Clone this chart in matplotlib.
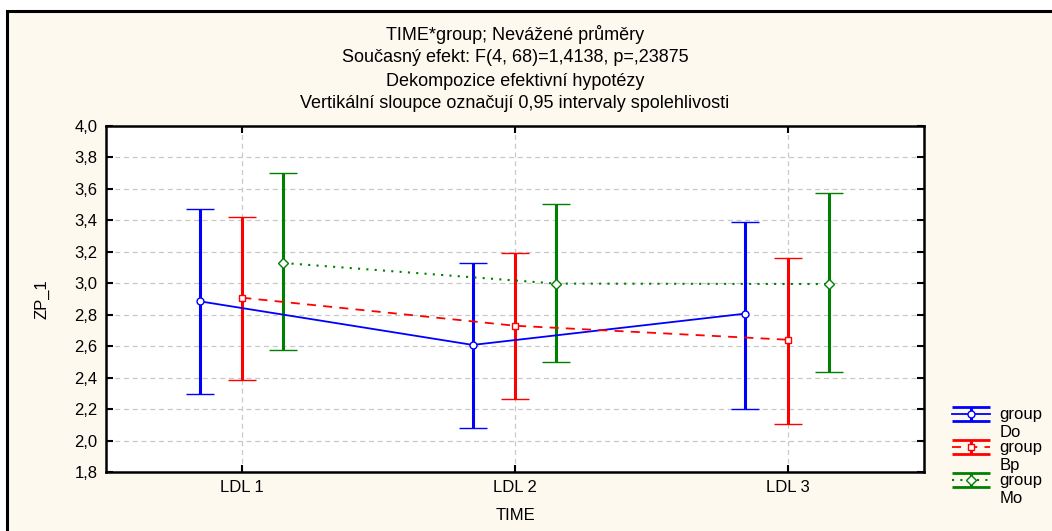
import matplotlib
matplotlib.use("Agg")
import matplotlib.pyplot as plt
from matplotlib.patches import Rectangle
from matplotlib.lines import Line2D
from matplotlib.legend_handler import HandlerErrorbar

plt.rcParams['font.family'] = ['Liberation Sans', 'DejaVu Sans']

# data
times = ["LDL 1", "LDL 2", "LDL 3"]
groups = ["group\nDo", "group\nBp", "group\nMo"]

do_mean = [2.885, 2.608, 2.807]
do_lo = [2.294, 2.078, 2.201]
do_hi = [3.470, 3.129, 3.390]

bp_mean = [2.908, 2.730, 2.641]
bp_lo = [2.383, 2.262, 2.107]
bp_hi = [3.421, 3.195, 3.161]

mo_mean = [3.129, 2.998, 2.995]
mo_lo = [2.576, 2.502, 2.434]
mo_hi = [3.701, 3.506, 3.574]

title_lines = [
    "TIME*group; Nevážené průměry",
    "Současný efekt: F(4, 68)=1,4138, p=,23875",
    "Dekompozice efektivní hypotézy",
    "Vertikální sloupce označují 0,95 intervaly spolehlivosti",
]

series = [
    (do_mean, do_lo, do_hi, "#0000ff", "-", "o", -0.155),
    (bp_mean, bp_lo, bp_hi, "#ff0000", (0, (5, 4)), "s", 0.0),
    (mo_mean, mo_lo, mo_hi, "#008000", (0, (1, 3)), "D", 0.15),
]


class WideCapHandler(HandlerErrorbar):
    # legend symbol like the original: caps as long as the handle, raised to the first text line
    def create_artists(self, legend, orig_handle, xdescent, ydescent,
                       width, height, fontsize, trans):
        arts = super().create_artists(legend, orig_handle, xdescent,
                                      ydescent - 14, width, height,
                                      fontsize, trans)
        for a in arts:
            if isinstance(a, Line2D) and a.get_marker() == "_":
                a.set_markersize(width)
                a.set_markeredgewidth(2.0)
            elif isinstance(a, Line2D) and a.get_marker() in ("o", "s", "D"):
                a.set_markersize(5)
        return arts


fig = plt.figure(figsize=(10.52, 5.31), dpi=100, facecolor="white")
fig.patches.append(Rectangle((7 / 1052, -0.1), 1.2, (531 - 11) / 531 + 0.1,
                             transform=fig.transFigure, facecolor="#fef9ee",
                             edgecolor="black", linewidth=2.2, zorder=-10))
ax = fig.add_axes([106 / 1052, 59 / 531, 818 / 1052, 346 / 531])

handles = []
for i, (m, lo, hi, col, ls, mk, off) in enumerate(series):
    x = [k + off for k in range(len(times))]
    yerr = [[a - b for a, b in zip(m, lo)], [b - a for a, b in zip(m, hi)]]
    lw = 1.5 if mk == "D" else 1.3
    h = ax.errorbar(x, m, yerr=yerr, color=col, linestyle=ls, linewidth=lw,
                    elinewidth=2.2, capsize=10, capthick=2.2,
                    marker=mk, markersize=5 if mk != "D" else 5.5,
                    markerfacecolor="white", markeredgecolor=col,
                    markeredgewidth=1.0, zorder=3, label=groups[i])
    handles.append(h)

ax.set_xlim(-0.5, 2.5)
ax.set_ylim(1.8, 4.0)
ax.set_xticks(range(len(times)))
ax.set_xticklabels(times)
yt = [1.8 + 0.2 * k for k in range(12)]
ax.set_yticks(yt)
ax.set_yticklabels([f"{v:.1f}".replace(".", ",") for v in yt])
ax.grid(True, color="#c8c8c8", linestyle=(0, (4, 3)), linewidth=0.9)
ax.set_axisbelow(True)
ax.tick_params(direction="in", top=True, right=True, length=5, width=1.5,
               labelsize=12, pad=6)
for s in ax.spines.values():
    s.set_linewidth(1.8)
ax.set_facecolor("white")

ax.set_xlabel("TIME", fontsize=12, labelpad=9)
ax.set_ylabel("ZP_1", fontsize=12, labelpad=18)

for k, line in enumerate(title_lines):
    fig.text(515 / 1052, 1 - (35 + 23 * k) / 531, line, ha="center",
             va="center", fontsize=13)

leg = fig.legend(handles=handles, loc="upper left",
                 bbox_to_anchor=(945 / 1052, 1 - 400 / 531), frameon=False,
                 fontsize=12, handlelength=2.3, handletextpad=0.55,
                 labelspacing=0.0, borderaxespad=0,
                 handler_map={h: WideCapHandler(yerr_size=0.42) for h in handles})
for t in leg.get_texts():
    t.set_linespacing(1.25)

fig.savefig("out.png", dpi=100, facecolor=fig.get_facecolor())
